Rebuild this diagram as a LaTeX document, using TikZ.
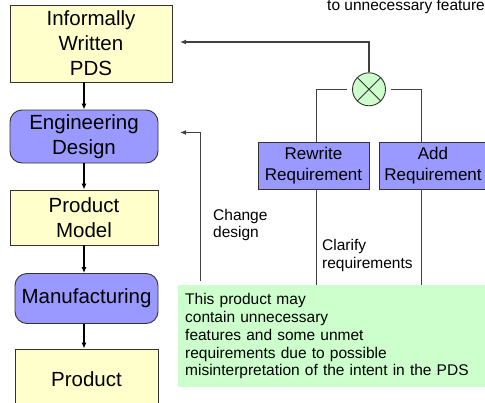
\documentclass[tikz,border=0pt]{standalone}
\usepackage{fontspec}
\setmainfont{Liberation Sans}
\usetikzlibrary{arrows.meta}
\definecolor{boxyellow}{HTML}{FFFFCC}
\definecolor{boxblue}{HTML}{9999FF}
\definecolor{notegreen}{HTML}{CCFFCC}
\definecolor{edgegray}{HTML}{333333}
\definecolor{linegray}{HTML}{404040}
\begin{document}
\begin{tikzpicture}[x=1pt,y=-1pt,
  bigfont/.style={font=\fontsize{20.5}{25}\selectfont},
  midfont/.style={font=\fontsize{17}{21.5}\selectfont},
  smallfont/.style={font=\fontsize{15.5}{17.5}\selectfont},
  ybox/.style={draw=edgegray, line width=0.9pt, fill=boxyellow, align=center, inner sep=0pt, bigfont},
  bbox/.style={draw=edgegray, line width=0.9pt, fill=boxblue, rounded corners=12pt, align=center, inner sep=0pt, bigfont},
  reqbox/.style={draw=edgegray, line width=0.9pt, fill=boxblue, align=center, inner sep=0pt, midfont, minimum height=47pt},
  flow/.style={draw=black, line width=1.1pt, -{Latex[length=6pt,width=5pt]}},
  link/.style={draw=linegray, line width=1.2pt},
  linkarrow/.style={link, -{Latex[length=6pt,width=5pt]}},
  lbl/.style={smallfont, align=left, inner sep=0pt}
]
\useasboundingbox (0,0) rectangle (485,402);
\clip (0,0) rectangle (485,402);
\fill[white] (0,0) rectangle (485,402);

% left column
\node[ybox, minimum width=162pt, minimum height=77pt] (pds) at (91,43.5) {Informally\\Written\\PDS};
\node[bbox, minimum width=148pt, minimum height=53pt] (eng) at (84,136.5) {Engineering\\Design};
\node[ybox, minimum width=148pt, minimum height=55pt] (model) at (84,217.5) {Product\\Model};
\node[bbox, minimum width=143pt, minimum height=50pt] (manu) at (86.5,298.5) {Manufacturing};
\node[ybox, minimum width=143pt, minimum height=60pt] (prod) at (86.5,379) {Product};

\draw[flow] (pds.south -| eng.north) -- (eng.north);
\draw[flow] (eng.south) -- (model.north);
\draw[flow] (model.south) -- (manu.north -| model.south);
\draw[flow] (manu.south -| model.south) -- (prod.north -| model.south);

% top right partial text
\node[smallfont, anchor=base west, inner sep=0pt] (toptxt) at (327,10.5) {to unnecessary features};

% combining circle
\node[circle, draw=edgegray, line width=0.9pt, fill=notegreen, minimum size=33pt, inner sep=0pt] (circ) at (369,89.3) {};
\draw[edgegray, line width=0.9pt] (circ.north west) -- (circ.south east);
\draw[edgegray, line width=0.9pt] (circ.north east) -- (circ.south west);

% requirement boxes
\node[reqbox, minimum width=111pt] (rw) at (313.5,165.5) {Rewrite\\Requirement};
\node[reqbox, minimum width=108pt] (add) at (433,165.5) {Add\\Requirement};

% green note
\node[fill=notegreen, anchor=north west, minimum width=312pt, minimum height=102pt,
      text width=298pt, inner xsep=7pt, inner ysep=0pt, align=left,
      font=\fontsize{15.5}{17.8}\selectfont] (note) at (178,285)
  {This product may\\contain unnecessary\\features and some unmet\\requirements due to possible\\misinterpretation of the intent in the PDS};

% coordinates
\coordinate (pdsin) at (180,42);
\coordinate (engin) at (180,132.5);
\coordinate (cdbot) at (200.7,281);
\coordinate (cl) at (347,89.3);
\coordinate (cr) at (391,89.3);
\coordinate (rwx) at (316.7,142);
\coordinate (addx) at (421.7,142);

% connectors
\draw[linkarrow] (circ.north) |- (pdsin);
\draw[link] (cl) -| (rwx);
\draw[link] (cr) -| (addx);
\draw[link] (rw.south -| rwx) -- (note.north -| rwx);
\draw[link] (add.south -| addx) -- (note.north -| addx);
\draw[linkarrow] (cdbot) |- (engin);

% labels
\node[lbl, anchor=north west] (chg) at (213,208.7) {Change\\design};
\node[lbl, anchor=north west] (clar) at (322,239.4) {Clarify\\requirements};
\end{tikzpicture}
\end{document}
